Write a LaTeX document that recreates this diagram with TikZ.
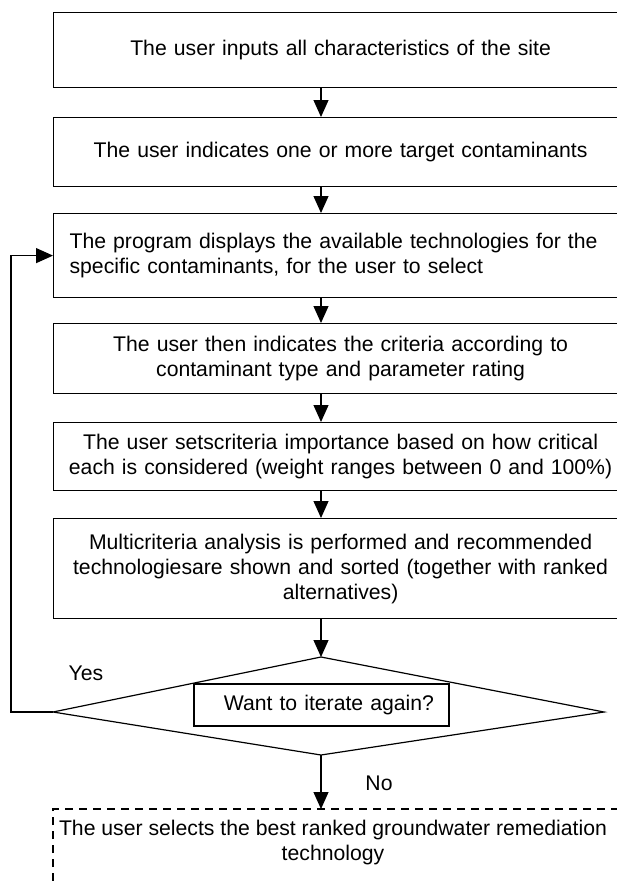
\documentclass[tikz,border=0pt]{standalone}
\usepackage{fontspec}
\setmainfont{Liberation Sans}
\usetikzlibrary{arrows.meta}
\tikzset{
  txt/.style={font=\fontsize{21.2}{25}\selectfont},
  stepbox/.style={txt, draw, line width=1.2pt, anchor=north west, minimum width=574pt,
    inner xsep=11pt, inner ysep=3pt, text width=552pt, align=center},
  flow/.style={line width=1.2pt, -{Triangle[length=17pt,width=15pt]}},
}
\begin{document}
\begin{tikzpicture}[x=1pt,y=-1pt]
            \useasboundingbox (0,0) rectangle (617,881);
            \clip (0,0) rectangle (617,881);
            \coordinate (axis) at (321,0);

            \node[stepbox, minimum height=75pt] (site) at (53,12) {The user inputs all characteristics of the site};
            \node[stepbox, minimum height=69pt] (targ) at (53,117) {The user indicates one or more target contaminants};
            \node[stepbox, minimum height=84pt, text width=542pt, inner xsep=16pt, align=left] (techs) at (53,213)
                {The program displays the available technologies for the\\specific contaminants, for the user to select};
            \node[stepbox, minimum height=70pt] (crit) at (53,323)
                {The user then indicates the criteria according to\\contaminant type and parameter rating};
            \node[stepbox, minimum height=68pt] (weight) at (53,422)
                {The user setscriteria importance based on how critical\\each is considered (weight ranges between 0 and 100\%)};
            \node[stepbox, minimum height=100pt] (alts) at (53,518)
                {Multicriteria analysis is performed and recommended\\technologiesare shown and sorted (together with ranked\\alternatives)};

            \draw[flow] (site.south -| axis) -- (targ.north -| axis);
            \draw[flow] (targ.south -| axis) -- (techs.north -| axis);
            \draw[flow] (techs.south -| axis) -- (crit.north -| axis);
            \draw[flow] (crit.south -| axis) -- (weight.north -| axis);
            \draw[flow] (weight.south -| axis) -- (alts.north -| axis);

            % decision
            \coordinate (dl) at (53,712);
            \coordinate (dt) at (321,657);
            \coordinate (dr) at (604,712);
            \coordinate (db) at (321,755);
            \draw[line width=1.2pt] (dl) -- (dt) -- (dr) -- (db) -- cycle;
            \node[txt, draw, line width=1.2pt, minimum height=42pt, text width=225pt, inner xsep=15pt, align=right] (again)
                at (321.5,705) {Want to iterate again?};
            \draw[flow] (alts.south -| axis) -- (dt);

            \draw[flow] (dl) -- ++(-42,0) |- (techs.west);
            \node[txt] (yes) at (86,673) {Yes};

            % end step
            \coordinate (selnw) at (53,809);
            \draw[line width=1.2pt, dash pattern=on 8pt off 6pt] (53,895) -- (selnw) -- (630,809);
            \node[txt, align=center] (best) at (333,843) {The user selects the best ranked groundwater remediation\\technology};
            \draw[flow] (db) -- (db |- selnw);
            \node[txt] (no) at (379,783) {No};
        \end{tikzpicture}
\end{document}
